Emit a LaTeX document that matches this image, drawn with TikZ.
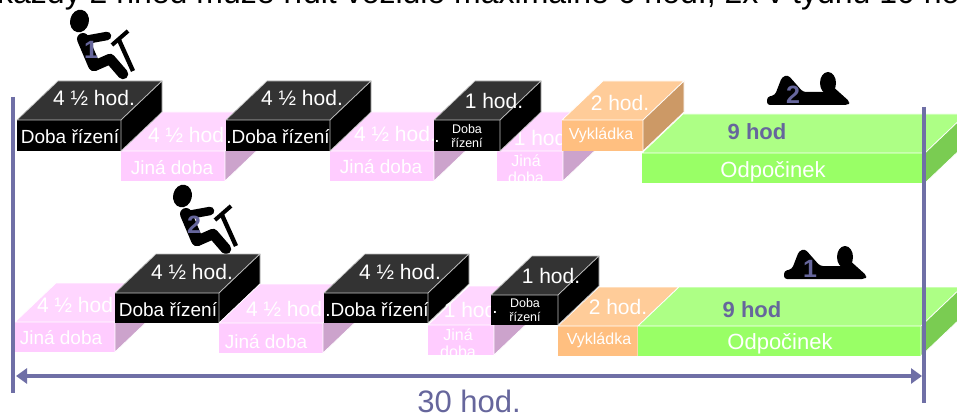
\documentclass[tikz,border=0pt]{standalone}
\usepackage{fontspec}
\setmainfont{Liberation Sans}
\usetikzlibrary{arrows.meta}
\definecolor{lineblue}{HTML}{6F6FA6}
\definecolor{numblue}{HTML}{66669C}
\definecolor{pinkf}{HTML}{FFCCFF}
\definecolor{pinkt}{HTML}{FFD6FF}
\definecolor{pinks}{HTML}{CCA3CC}
\definecolor{blackt}{HTML}{333333}
\definecolor{oraf}{HTML}{FFBF80}
\definecolor{orat}{HTML}{FFCC99}
\definecolor{oras}{HTML}{CC9966}
\definecolor{grf}{HTML}{99FF66}
\definecolor{grt}{HTML}{ADFF85}
\definecolor{grs}{HTML}{7ACC52}
\tikzset{
  x=1pt,y=-1pt,
  fs/.style={font=\fontsize{#1}{#1}\selectfont},
  front/.style={minimum height=#1,inner sep=0pt,text=white,align=center,anchor=north west,outer sep=0pt},
  lbl/.style={text=white,inner sep=0pt,fs=21},
  wt/.style={text=white,inner sep=0pt,fs=#1,align=center},
  rail/.style={draw=lineblue,line width=4.4pt},
  fig/.style={draw=black,line cap=round,line join=round},
  num/.style={text=numblue,inner sep=0pt,font=\fontsize{25}{25}\selectfont\bfseries},
  hrs/.style={text=numblue,inner sep=0pt,font=\fontsize{22}{22}\selectfont\bfseries},
}
\newcommand{\blk}[6]{%
  \node[front=#5pt,minimum width=#4pt,fill=#6] (#1) at (#2,#3) {};}
\newcommand{\faces}[5]{%
  \path[fill=#2,draw=#4,line width=.7pt,line join=round] (#1.north west) -- ++(#5) -- ([shift={(#5)}]#1.north east) -- (#1.north east) -- cycle;
  \path[fill=#3,draw=#4,line width=.7pt,line join=round] (#1.north east) -- ([shift={(#5)}]#1.north east) -- ([shift={(#5)}]#1.south east) -- (#1.south east) -- cycle;
}
\newcommand{\driver}[3]{%
 \begin{scope}[shift={(#1,#2)}]
  \fill[rotate around={-12:(79.5,21)}] (79.5,21) ellipse [x radius=9.4,y radius=11.4];
  \draw[fig,line width=12pt] (83,39) -- (94,65);
  \draw[fig,line width=8.5pt] (85,40) -- (107,36);
  \draw[fig,line width=10.5pt] (94,66) -- (110,59) -- (123,74);
  \draw[fig,line width=4pt,line cap=butt] (112,45) -- (128,31);
  \draw[fig,line width=4.4pt,line cap=butt] (119,40) -- (133,71);
  \node[num] (#3a) at (91,50) {#3};
 \end{scope}}
\newcommand{\rester}[3]{%
 \begin{scope}[shift={(#1,#2)}]
  \fill (828,83) ellipse [x radius=8,y radius=11];
  \fill[rounded corners=3pt] (767,105) -- (767,97) -- (775,95) -- (782,77) -- (788,75) -- (803,92) -- (826,92) -- (830,84) -- (850,102) -- (848,105) -- cycle;
  \node[num] (#3a) at (793,95) {#3};
 \end{scope}}
\begin{document}
\begin{tikzpicture}
\useasboundingbox (0,0) rectangle (957,414);
\clip (0,0) rectangle (957,414);
\fill[white] (0,0) rectangle (957,414);

\node[anchor=base west,inner sep=0pt,fs=32] (title) at (-3,4) {každý 2 hned může řídit vozidlo maximálně 6 hod., 2x v týdnu 10 hod};

\driver{0}{0}{1}
\driver{103}{175}{2}
\rester{0}{0}{2}
\rester{17}{174}{1}

% green, row 1
\blk{g1}{642}{153}{283}{30}{grf}
\faces{g1}{grt}{grs}{white}{41,-39}
\node[wt=22] (g1t) at (773,172) {Odpočinek};
\node[hrs] (g1h) at (757,132) {9 hod};

% row 1
\blk{p1}{121}{151}{104}{30}{pinkf}
\faces{p1}{pinkt}{pinks}{white}{41,-39}
\node[lbl] (p1h) at (189,135) {4 ½ hod.};
\node[wt=19] (p1t) at (172,168) {Jiná doba};
\blk{b1}{17}{120}{104}{31}{black}
\faces{b1}{blackt}{black}{lightgray}{41,-39}
\node[wt=19] (b1t) at (70,137) {Doba řízení};
\node[lbl] (b1h) at (94,98) {4 ½ hod.};

\blk{p2}{330}{151}{104}{30}{pinkf}
\faces{p2}{pinkt}{pinks}{white}{41,-39}
\node[lbl] (p2h) at (395,134) {4 ½ hod.};
\node[wt=19] (p2t) at (381,167) {Jiná doba};
\blk{b2}{226}{120}{104}{31}{black}
\faces{b2}{blackt}{black}{lightgray}{41,-39}
\node[wt=19] (b2t) at (278,137) {.Doba řízení};
\node[lbl] (b2h) at (302,98) {4 ½ hod.};

\blk{p3}{497}{151}{66}{30}{pinkf}
\faces{p3}{pinkt}{pinks}{white}{41,-39}
\node[lbl] (p3h) at (543,138) {1 hod.};
\node[wt=16] (p3t) at (526,169) {Jiná\\[1pt]doba};
\blk{b3}{434}{120}{66}{31}{black}
\faces{b3}{blackt}{black}{lightgray}{41,-39}
\node[wt=12.5] (b3t) at (467,136) {Doba\\[2pt]řízení};
\node[wt=19] (b3d) at (437,141) {.};
\node[lbl] (b3h) at (494,101) {1 hod.};

\blk{o1}{562}{120}{81}{31}{oraf}
\faces{o1}{orat}{oras}{white}{41,-39}
\node[wt=16] (o1t) at (601,135) {Vykládka};
\node[lbl] (o1h) at (620,103) {2 hod.};

% row 2
\blk{p4}{15}{322}{100}{30}{pinkf}
\faces{p4}{pinkt}{pinks}{white}{41,-39}
\node[lbl] (p4h) at (78,305) {4 ½ hod.};
\node[wt=19] (p4t) at (61,338) {Jiná doba};
\blk{b4}{115}{293}{104}{30}{black}
\faces{b4}{blackt}{black}{lightgray}{41,-39}
\node[wt=19] (b4t) at (168,310) {Doba řízení};
\node[lbl] (b4h) at (192,272) {4 ½ hod.};

\blk{p5}{219}{323}{104}{30}{pinkf}
\faces{p5}{pinkt}{pinks}{white}{41,-39}
\node[lbl] (p5h) at (287,309) {4 ½ hod.};
\node[wt=19] (p5t) at (266,342) {Jiná doba};
\blk{b5}{324}{293}{104}{30}{black}
\faces{b5}{blackt}{black}{lightgray}{41,-39}
\node[wt=19] (b5t) at (377,310) {.Doba řízení};
\node[lbl] (b5h) at (400,272) {4 ½ hod.};

\blk{p6}{428}{325}{66}{30}{pinkf}
\faces{p6}{pinkt}{pinks}{white}{41,-39}
\node[lbl] (p6h) at (473,310) {1 hod.};
\node[wt=16] (p6t) at (458,343) {Jiná\\[1pt]doba};
\blk{o2}{558}{326}{80}{30}{oraf}
\faces{o2}{orat}{oras}{white}{41,-39}
\node[wt=16] (o2t) at (599,340) {Vykládka};
\node[lbl] (o2h) at (618,307) {2 hod.};
\blk{g2}{638}{326}{283}{30}{grf}
\faces{g2}{grt}{grs}{white}{41,-39}
\node[wt=22] (g2t) at (780,344) {Odpočinek};
\node[hrs] (g2h) at (752,310) {9 hod};
\blk{b6}{491}{295}{67}{30}{black}
\faces{b6}{blackt}{black}{lightgray}{41,-39}
\node[wt=12.5] (b6t) at (525,310) {Doba\\[2pt]řízení};
\node[wt=19] (b6d) at (495,312) {.};
\node[lbl] (b6h) at (551,276) {1 hod.};

% rails and the span arrow
\coordinate (lt) at (13,97);
\coordinate (lb) at (13,393);
\coordinate (rt) at (924,107);
\coordinate (rb) at (924,403);
\coordinate (al) at (16,376);
\coordinate (ar) at (922,376);
\draw[rail] (lt) -- (lb);
\draw[rail] (rt) -- (rb);
\draw[draw=lineblue,fill=lineblue,line width=4pt,{Triangle[length=11pt,width=15pt,sep=0pt]}-{Triangle[length=11pt,width=15pt]}] (al) -- (ar);
\node[anchor=base,text=numblue,inner sep=0pt,fs=31] (dur) at (469,412) {30 hod.};
\end{tikzpicture}
\end{document}
